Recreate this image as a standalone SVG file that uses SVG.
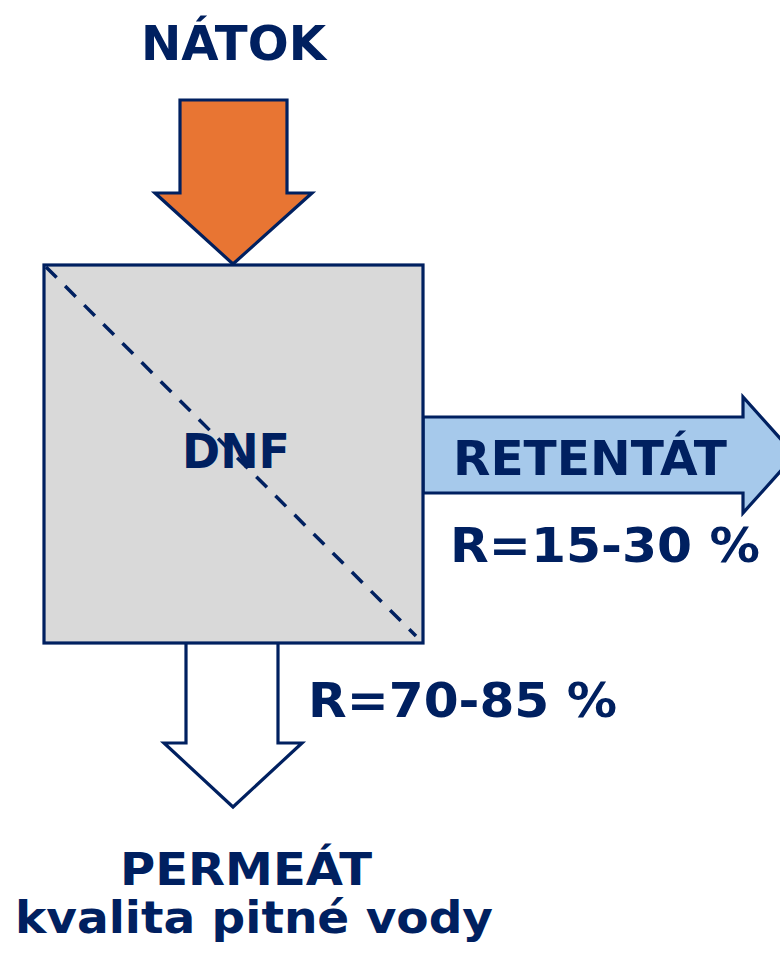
<svg xmlns="http://www.w3.org/2000/svg" width="780" height="953" viewBox="0 0 780 953">
<style>
.t{font-family:"DejaVu Sans","Liberation Sans",sans-serif;font-weight:bold;fill:#002060;font-size:48px;}
.s{font-size:45px;}
.ln{stroke:#002060;stroke-width:3.2;stroke-linejoin:miter;}
</style>
<rect width="780" height="953" fill="#ffffff"/>
<g id="connectors">
<path id="feed" class="ln" d="M180,100 H287 V193 H312 L233,264 L155,193 H180 Z" fill="#E87533"/>
<path id="retentate" class="ln" d="M423,417 H743 V397 L795,455 L743,513 V493 H423 Z" fill="#A6C9EB"/>
<path id="permeate" class="ln" d="M186,643 V743 H164 L233,807 L302,743 H278 V643" fill="#ffffff"/>
</g>
<g id="dnf">
<rect x="44" y="265" width="379" height="378" fill="#D9D9D9" class="ln"/>
<line x1="46" y1="267" x2="416" y2="636" stroke="#002060" stroke-width="3.5" stroke-dasharray="15,12"/>
<text class="t" x="182" y="468" textLength="108" lengthAdjust="spacingAndGlyphs">DNF</text>
</g>
<g id="labels">
<text class="t" x="141" y="60" textLength="185" lengthAdjust="spacingAndGlyphs">NÁTOK</text>
<text class="t" x="453" y="475" textLength="274" lengthAdjust="spacingAndGlyphs">RETENTÁT</text>
<text class="t" x="450" y="562" textLength="310" lengthAdjust="spacingAndGlyphs">R=15-30 %</text>
<text class="t" x="308" y="717" textLength="309" lengthAdjust="spacingAndGlyphs">R=70-85 %</text>
<text class="t s" x="120" y="885" textLength="252" lengthAdjust="spacingAndGlyphs">PERMEÁT</text>
<text class="t s" x="15" y="933" textLength="478" lengthAdjust="spacingAndGlyphs">kvalita pitné vody</text>
</g>
</svg>
